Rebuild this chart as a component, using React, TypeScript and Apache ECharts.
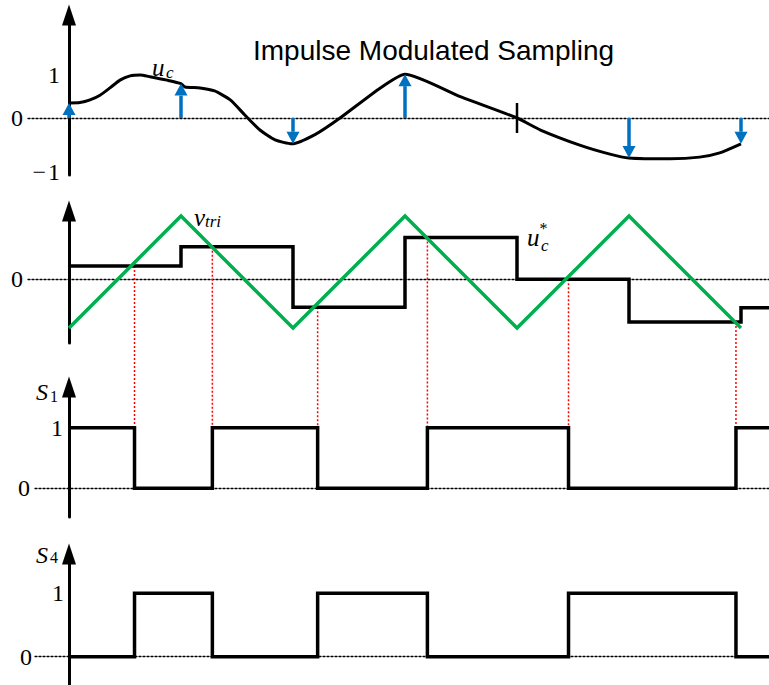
import React, { useEffect, useRef } from "react";
import * as echarts from "echarts";

// ---------- data (time in sampling periods, values in plot units) ----------
const UC_T = [0, 0.098, 0.1875, 0.277, 0.366, 0.455, 0.545, 0.634, 0.723, 0.875, 1.0, 1.036, 1.17, 1.3, 1.44, 1.57, 1.705, 1.84, 1.99, 2.2, 2.42, 2.78, 3.0, 3.5, 4.0, 4.21, 4.56, 4.83, 5.0, 5.37, 5.63, 5.81, 6.0];
const UC_V = [0.35, 0.36, 0.42, 0.53, 0.7, 0.88, 0.98, 1.0, 0.96, 0.88, 0.8, 0.72, 0.7, 0.63, 0.42, 0.07, -0.28, -0.51, -0.6, -0.38, 0, 0.7, 1.02, 0.49, 0, -0.28, -0.63, -0.84, -0.93, -0.95, -0.91, -0.81, -0.6];

const IMPULSE_T = [0, 1, 2, 3, 5, 6];
const IMPULSE_V = [0.35, 0.8, -0.6, 1.02, -0.93, -0.6];
const ZERO_SAMPLE_T = [4];

const TRI_T = [0, 1, 2, 3, 4, 5, 6];
const TRI_V = [-1.13, 1.47, -1.13, 1.47, -1.13, 1.47, -1.13];

const STAIR_T = [0, 1, 2, 3, 4, 5, 6, 6.25];
const STAIR_V = [0.31, 0.76, -0.65, 0.97, 0, -0.99, -0.66, -0.66];

const SWITCH_T = [0, 0.585, 1.28, 2.22, 3.2, 4.46, 5.955, 6.25];
const S1_V = [1, 0, 1, 0, 1, 0, 1, 1];
const S4_V = [0, 1, 0, 1, 0, 1, 0, 0];

const P1_TICKS = [-1, 0, 1];
const P1_LABELS = ["\u2212\u200A1", "0", "1"];
const P2_TICKS = [0];
const P2_LABELS = ["0"];
const S_TICKS = [0, 1];
const S_LABELS = ["0", "1"];

const TITLE = "Impulse Modulated Sampling";

// ---------- style ----------
const BLUE = "#0070C0";
const GREEN = "#00B050";
const RED = "#FF0000";
const SERIF = "Liberation Serif";
const SANS = "Liberation Sans";
const T_MAX = 6.25;

const zip = (a: number[], b: number[]) => a.map((x, i) => [x, b[i]]);

function yAxis(gi: number, min: number, max: number, ticks: number[], labels: string[], margin: number, zeroPad: number) {
  const base = { fontFamily: SERIF, fontSize: 24, color: "#000" };
  return {
    type: "value",
    gridIndex: gi,
    min,
    max,
    axisLine: {
      show: true,
      onZero: true,
      symbol: ["none", "triangle"],
      symbolSize: [14, 21],
      symbolOffset: [0, 2],
      lineStyle: { color: "#000", width: 3 },
    },
    axisTick: { show: false },
    splitLine: { show: false },
    axisLabel: {
      show: true,
      customValues: ticks,
      margin,
      ...base,
      formatter: (v: number) => {
        const idx = ticks.findIndex((t) => Math.abs(t - v) < 1e-9);
        const txt = idx >= 0 ? labels[idx] : "";
        if (v === 0) return "{z|" + txt + "}";
        if (v < 0) return "{m|" + txt + "}";
        return "{n|" + txt + "}";
      },
      rich: {
        z: { ...base, padding: [0, zeroPad, 0, 0] },
        n: { ...base },
        m: { ...base, padding: [22, 0, 0, 0] },
      },
    },
  };
}

function xAxis(gi: number, min: number) {
  return {
    type: "value",
    gridIndex: gi,
    min,
    max: T_MAX,
    axisLine: { show: true, onZero: true, lineStyle: { color: "#000", width: 1.3, type: [2, 2] } },
    axisTick: { show: false },
    axisLabel: { show: false },
    splitLine: { show: false },
  };
}

function textEls() {
  const t = (id: string, text: string, x: number, y: number, size: number, family: string, italic: boolean) => ({
    type: "text",
    id,
    x,
    y,
    z: 10,
    style: {
      text,
      fill: "#000",
      fontSize: size,
      fontFamily: family,
      fontStyle: italic ? "italic" : "normal",
      align: "left",
      verticalAlign: "middle",
    },
  });
  return [
    t("title", TITLE, 253, 50.5, 28, SANS, false),
    t("uc_u", "u", 152, 67, 25, SERIF, true),
    t("uc_c", "c", 166, 72.5, 17, SERIF, true),
    t("vt_v", "v", 194, 217, 25, SERIF, true),
    t("vt_s", "tri", 205, 221.5, 17, SERIF, true),
    t("us_u", "u", 527, 237, 25, SERIF, true),
    t("us_star", "*", 539.5, 228, 16, SERIF, false),
    t("us_c", "c", 541, 245.5, 17, SERIF, true),
    t("s1_s", "S", 36, 392, 24, SERIF, true),
    t("s1_n", "1", 50, 396.5, 16, SERIF, false),
    t("s4_s", "S", 36, 555, 24, SERIF, true),
    t("s4_n", "4", 50, 557.5, 16, SERIF, false),
  ];
}

function buildOption() {
  const impulseData = zip(IMPULSE_T, IMPULSE_V);
  const g = (top: number, height: number, left: number) => ({
    left,
    right: 0,
    top,
    height,
    containLabel: false,
    outerBoundsMode: "none",
  });
  return {
    animation: false,
    backgroundColor: "#fff",
    grid: [g(17, 158, 28), g(213, 130, 28), g(389, 128, 35), g(556, 129, 35)],
    xAxis: [xAxis(0, -0.366), xAxis(1, -0.366), xAxis(2, -0.3036), xAxis(3, -0.3036)],
    yAxis: [
      yAxis(0, -1.326, 2.349, P1_TICKS, P1_LABELS, -32, 37),
      yAxis(1, -1.481, 1.542, P2_TICKS, P2_LABELS, -32, 37),
      yAxis(2, -0.474, 1.639, S_TICKS, S_LABELS, -28, 33),
      yAxis(3, -0.446, 1.588, S_TICKS, S_LABELS, -29, 32),
    ],
    series: [
      {
        type: "line",
        xAxisIndex: 0,
        yAxisIndex: 0,
        data: zip(UC_T, UC_V),
        smooth: 0.2,
        showSymbol: false,
        lineStyle: { color: "#000", width: 3 },
        z: 3,
      },
      {
        type: "custom",
        xAxisIndex: 0,
        yAxisIndex: 0,
        data: impulseData,
        z: 5,
        renderItem: (_p: any, api: any) => {
          const t = api.value(0);
          const v = api.value(1);
          const p0 = api.coord([t, 0]);
          const p1 = api.coord([t, v]);
          const dir = p1[1] < p0[1] ? 1 : -1;
          const h = 12;
          const w = 13;
          const baseY = p1[1] + dir * h;
          return {
            type: "group",
            children: [
              { type: "line", shape: { x1: p0[0], y1: p0[1], x2: p1[0], y2: baseY }, style: { stroke: BLUE, lineWidth: 3.5 } },
              { type: "polygon", shape: { points: [[p1[0], p1[1]], [p1[0] - w / 2, baseY], [p1[0] + w / 2, baseY]] }, style: { fill: BLUE } },
            ],
          };
        },
      },
      {
        type: "custom",
        xAxisIndex: 0,
        yAxisIndex: 0,
        data: ZERO_SAMPLE_T.map((t) => [t, 0]),
        z: 5,
        renderItem: (_p: any, api: any) => {
          const p = api.coord([api.value(0), api.value(1)]);
          return { type: "line", shape: { x1: p[0], y1: p[1] - 15, x2: p[0], y2: p[1] + 15 }, style: { stroke: "#000", lineWidth: 2.5 } };
        },
      },
      {
        type: "line",
        xAxisIndex: 1,
        yAxisIndex: 1,
        data: zip(STAIR_T, STAIR_V),
        step: "end",
        showSymbol: false,
        lineStyle: { color: "#000", width: 3.5, join: "miter" },
        z: 3,
      },
      {
        type: "line",
        xAxisIndex: 1,
        yAxisIndex: 1,
        data: zip(TRI_T, TRI_V),
        showSymbol: false,
        lineStyle: { color: GREEN, width: 3.5, join: "miter" },
        z: 4,
      },
      {
        type: "line",
        xAxisIndex: 2,
        yAxisIndex: 2,
        data: zip(SWITCH_T, S1_V),
        step: "end",
        showSymbol: false,
        lineStyle: { color: "#000", width: 3.5, join: "miter" },
        z: 3,
      },
      {
        type: "line",
        xAxisIndex: 3,
        yAxisIndex: 3,
        data: zip(SWITCH_T, S4_V),
        step: "end",
        showSymbol: false,
        lineStyle: { color: "#000", width: 3.5, join: "miter" },
        z: 3,
      },
    ],
    graphic: textEls(),
  };
}

function stairAt(t: number) {
  let v = STAIR_V[0];
  for (let i = 0; i < STAIR_T.length; i++) if (STAIR_T[i] <= t) v = STAIR_V[i];
  return v;
}

export default function App() {
  const ref = useRef<HTMLDivElement>(null);
  useEffect(() => {
    if (!ref.current) return;
    const chart = echarts.init(ref.current, null, { renderer: "svg" });
    chart.setOption(buildOption() as any);
    const cuts = SWITCH_T.slice(1, SWITCH_T.length - 1);
    const lines = cuts.map((t, i) => {
      const a = chart.convertToPixel({ gridIndex: 1 } as any, [t, stairAt(t)]) as number[];
      const b = chart.convertToPixel({ gridIndex: 2 } as any, [t, 1]) as number[];
      return {
        type: "line",
        id: "red" + i,
        z: 1,
        shape: { x1: a[0], y1: a[1], x2: b[0], y2: b[1] },
        style: { stroke: RED, lineWidth: 1.5, lineDash: [2, 2] },
      };
    });
    chart.setOption({ graphic: [...textEls(), ...lines] } as any);
    return () => chart.dispose();
  }, []);
  return (
    <div
      ref={ref}
      style={{ position: "fixed", left: 0, top: 0, width: 769, height: 685, background: "#fff" }}
    />
  );
}
